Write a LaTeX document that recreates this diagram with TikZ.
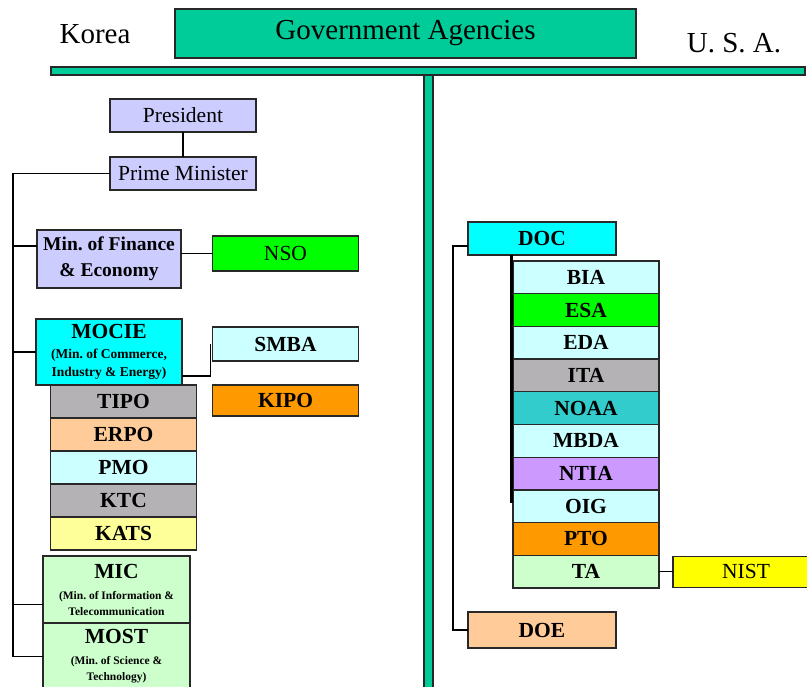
\documentclass[tikz,border=0pt]{standalone}
\usepackage{fontspec}
\setmainfont{Liberation Serif}
\usepackage{tikz}
\usetikzlibrary{positioning}
\definecolor{ink}{RGB}{40,40,40}
\definecolor{agency}{RGB}{0,204,153}
\definecolor{lav}{RGB}{204,204,255}
\definecolor{lime}{RGB}{0,255,0}
\definecolor{aqua}{RGB}{0,255,255}
\definecolor{paleaqua}{RGB}{204,255,255}
\definecolor{orng}{RGB}{255,153,0}
\definecolor{grey}{RGB}{180,178,180}
\definecolor{peach}{RGB}{255,204,153}
\definecolor{paleyel}{RGB}{255,255,153}
\definecolor{palegrn}{RGB}{204,255,204}
\definecolor{sea}{RGB}{51,204,204}
\definecolor{lilac}{RGB}{204,153,255}
\definecolor{yel}{RGB}{255,255,0}
\newcommand{\fbig}{\fontsize{29}{32}\selectfont}
\newcommand{\fname}{\fontsize{21.5}{24}\selectfont}
\newcommand{\fmid}{\fontsize{19.5}{26}\selectfont}
\newcommand{\fsub}{\fontsize{13.5}{16}\selectfont}
\newcommand{\ftiny}{\fontsize{11.5}{14}\selectfont}
\tikzset{
  box/.style={draw=ink,line width=1.3pt,outer sep=0pt,inner sep=1pt,align=center,
    minimum width=146pt,minimum height=33pt,font=\fname},
  unit/.style={box,font=\fname\bfseries},
  bar/.style={draw=ink,line width=1.3pt,fill=agency},
  link/.style={draw=black,line width=1.2pt},
}
\begin{document}
\begin{tikzpicture}[x=1pt,y=-1pt]
\useasboundingbox (0,0) rectangle (807,687);
% banner
\node[font=\fbig] (korea) at (95,34) {Korea};
\node[box,fill=agency,minimum width=461pt,minimum height=49pt,font=\fbig] (gov) at (405.5,33.5) {Government Agencies};
\node[font=\fbig] (usa) at (734,43) {U. S. A.};
\draw[bar] (424,75) rectangle (433,690);
\draw[bar] (51,67) rectangle (805,75);

% Korea side
\node[box,fill=lav] (pres) at (183,115.5) {President};
\node[box,fill=lav] (pm) at (183,173.5) {Prime Minister};
\node[box,fill=lav,minimum width=144pt,minimum height=58pt,font=\fmid\bfseries] (fin) at (109,259) {Min.\ of Finance\\\& Economy};
\node[box,fill=lime,minimum height=35pt] (nso) at (285.5,253.5) {NSO};
\node[unit,fill=aqua,minimum height=66pt] (mocie) at (109,352) {MOCIE\\[-4pt]\fsub (Min.\ of Commerce,\\[-6pt]\fsub Industry \& Energy)};
\node[unit,fill=paleaqua,minimum height=34pt] (smba) at (285.5,344) {SMBA};
\node[unit,fill=orng,minimum height=31pt] (kipo) at (285.5,400.5) {KIPO};
\node[unit,fill=grey] (tipo) at (123.5,401.5) {TIPO};
\node[unit,fill=peach,below=0pt of tipo] (erpo) {ERPO};
\node[unit,fill=paleaqua,below=0pt of erpo] (pmo) {PMO};
\node[unit,fill=grey,below=0pt of pmo] (ktc) {KTC};
\node[unit,fill=paleyel,below=0pt of ktc] (kats) {KATS};
\node[unit,fill=palegrn,minimum width=147pt,minimum height=67pt] (mic) at (116.5,589.5) {MIC\\[-3pt]\ftiny (Min.\ of Information \&\\[-8pt]\ftiny Telecommunication};
\node[unit,fill=palegrn,minimum width=147pt,minimum height=67pt,below=0pt of mic] (most) {MOST\\[-3pt]\ftiny (Min.\ of Science \&\\[-8pt]\ftiny Technology)};

\coordinate (kspine) at (13,0);
\coordinate (finin) at ([yshift=13pt]fin.west);
\coordinate (micin) at ([yshift=-15pt]mic.west);
\coordinate (mocieout) at ([yshift=-24pt]mocie.east);
\draw[link] (pres) -- (pm);
\draw[link] (pm.west) -| (kspine |- most.west) -- (most.west);
\draw[link] (kspine |- finin) -- (finin);
\draw[link] (kspine |- mocie.west) -- (mocie.west);
\draw[link] (kspine |- micin) -- (micin);
\draw[link] (fin.east |- nso.west) -- (nso.west);
\draw[link] (mocieout) -| ([xshift=-2pt]smba.west);

% USA side
\node[unit,fill=aqua,minimum width=148pt] (doc) at (542,238.5) {DOC};
\node[unit,fill=paleaqua,minimum height=32.7pt] (bia) at (586,277.35) {BIA};
\node[unit,fill=lime,minimum height=32.7pt,below=0pt of bia] (esa) {ESA};
\node[unit,fill=paleaqua,minimum height=32.7pt,below=0pt of esa] (eda) {EDA};
\node[unit,fill=grey,minimum height=32.7pt,below=0pt of eda] (ita) {ITA};
\node[unit,fill=sea,minimum height=32.7pt,below=0pt of ita] (noaa) {NOAA};
\node[unit,fill=paleaqua,minimum height=32.7pt,below=0pt of noaa] (mbda) {MBDA};
\node[unit,fill=lilac,minimum height=32.7pt,below=0pt of mbda] (ntia) {NTIA};
\node[unit,fill=paleaqua,minimum height=32.7pt,below=0pt of ntia] (oig) {OIG};
\node[unit,fill=orng,minimum height=32.7pt,below=0pt of oig] (pto) {PTO};
\node[unit,fill=palegrn,minimum height=32.7pt,below=0pt of pto] (ta) {TA};
\node[box,fill=yel,minimum height=31pt,right=14pt of ta] (nist) {NIST};
\node[unit,fill=peach,minimum width=148pt,minimum height=36pt] (doe) at (542,630) {DOE};

\coordinate (uspine) at (453,0);
\coordinate (docout) at ([yshift=-7.5pt]doc.west);
\coordinate (ntiaend) at (511.5,503);
\draw[link] (docout) -| (uspine |- doe.west) -- (doe.west);
\draw[black,line width=2.4pt] (doc.south -| ntiaend) -- (ntiaend);
\draw[link] (ta) -- (nist);
\end{tikzpicture}
\end{document}
